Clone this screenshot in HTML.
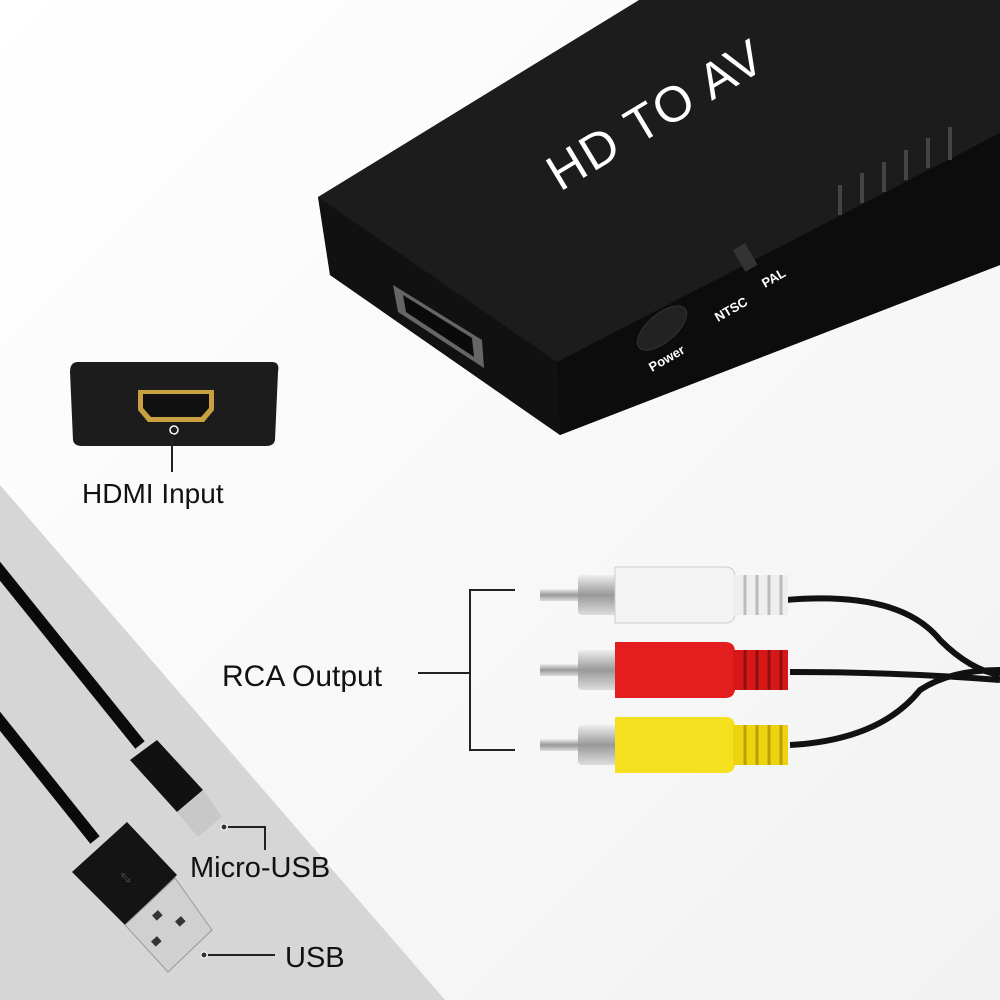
<!DOCTYPE html>
<html><head><meta charset="utf-8"><style>
html,body{margin:0;padding:0;width:1000px;height:1000px;overflow:hidden;background:#fff}
text{font-family:"Liberation Sans",sans-serif}
</style></head><body>
<svg width="1000" height="1000" viewBox="0 0 1000 1000" xmlns="http://www.w3.org/2000/svg">
<defs>
<linearGradient id="bg" x1="0" y1="0" x2="1" y2="1"><stop offset="0" stop-color="#ffffff"/><stop offset="1" stop-color="#f2f2f2"/></linearGradient>
<linearGradient id="metal" x1="0" y1="0" x2="0" y2="1"><stop offset="0" stop-color="#eee"/><stop offset=".5" stop-color="#999"/><stop offset="1" stop-color="#ddd"/></linearGradient>
</defs>
<rect width="1000" height="1000" fill="url(#bg)"/>
<polygon points="0,485 445,1000 0,1000" fill="#d6d6d6"/>
<!-- box -->
<polygon points="318,197 639,0 1000,0 1000,265 560,435 330,275" fill="#1c1c1c"/>
<polygon points="557,362 1000,133 1000,265 560,435" fill="#0c0c0c"/>
<polygon points="318,197 557,362 560,435 330,275" fill="#111"/>
<text x="560" y="192" transform="rotate(-31 560 192)" font-size="50" fill="#fff" letter-spacing="2">HD TO AV</text>
<polygon points="393,285 482,340 484,368 398,312" fill="#666"/>
<polygon points="403,295 472,338 474,357 406,312" fill="#0a0a0a"/>
<ellipse cx="662" cy="328" rx="30" ry="14" transform="rotate(-40 662 328)" fill="#222" stroke="#333"/>
<text x="652" y="372" transform="rotate(-30 652 372)" font-size="13" font-weight="bold" fill="#fff">Power</text>
<text x="718" y="322" transform="rotate(-30 718 322)" font-size="13" font-weight="bold" fill="#fff">NTSC</text>
<text x="765" y="288" transform="rotate(-30 765 288)" font-size="13" font-weight="bold" fill="#fff">PAL</text>
<rect x="738" y="245" width="14" height="25" fill="#333" transform="rotate(-30 745 257)"/>
<g stroke="#444" stroke-width="4">
<line x1="840" y1="185" x2="840" y2="215"/><line x1="862" y1="173" x2="862" y2="203"/><line x1="884" y1="162" x2="884" y2="192"/><line x1="906" y1="150" x2="906" y2="180"/><line x1="928" y1="138" x2="928" y2="168"/><line x1="950" y1="127" x2="950" y2="160"/>
</g>
<!-- HDMI input -->
<path d="M78,362 H272 Q280,362 278,372 L275,440 Q274,446 266,446 H82 Q74,446 73,440 L70,372 Q70,362 78,362Z" fill="#1c1c1c"/>
<path d="M138,390 H214 V410 L204,422 H148 L138,410Z" fill="#c9a040"/>
<path d="M143,394 H209 V408 L201,417 H151 L143,408Z" fill="#111"/>
<circle cx="174" cy="430" r="4" fill="none" stroke="#fff" stroke-width="1.5"/>
<line x1="172" y1="434" x2="172" y2="472" stroke="#222" stroke-width="2"/>
<text x="82" y="503" font-size="28" fill="#111">HDMI Input</text>
<!-- RCA -->
<g stroke="#111" stroke-width="6" fill="none">
<path d="M785,600 Q900,590 940,640 Q970,670 1000,675"/>
<path d="M790,672 Q900,672 1000,680"/>
<path d="M790,745 Q880,740 920,690 Q950,670 1000,670"/>
</g>
<g>
<g transform="translate(0,595)">
<rect x="540" y="-6" width="40" height="12" fill="url(#metal)"/>
<rect x="578" y="-20" width="40" height="40" rx="4" fill="url(#metal)"/>
<path d="M615,-28 H725 Q735,-28 735,-18 V18 Q735,28 725,28 H615Z" fill="#f3f3f3" stroke="#ccc"/>
<rect x="733" y="-20" width="55" height="40" fill="#eee"/>
<g stroke="#bbb" stroke-width="3"><line x1="745" y1="-20" x2="745" y2="20"/><line x1="757" y1="-20" x2="757" y2="20"/><line x1="769" y1="-20" x2="769" y2="20"/><line x1="781" y1="-20" x2="781" y2="20"/></g>
</g>
<g transform="translate(0,670)">
<rect x="540" y="-6" width="40" height="12" fill="url(#metal)"/>
<rect x="578" y="-20" width="40" height="40" rx="4" fill="url(#metal)"/>
<path d="M615,-28 H725 Q735,-28 735,-18 V18 Q735,28 725,28 H615Z" fill="#e41e1e"/>
<rect x="733" y="-20" width="55" height="40" fill="#d81818"/>
<g stroke="#901010" stroke-width="3"><line x1="745" y1="-20" x2="745" y2="20"/><line x1="757" y1="-20" x2="757" y2="20"/><line x1="769" y1="-20" x2="769" y2="20"/><line x1="781" y1="-20" x2="781" y2="20"/></g>
</g>
<g transform="translate(0,745)">
<rect x="540" y="-6" width="40" height="12" fill="url(#metal)"/>
<rect x="578" y="-20" width="40" height="40" rx="4" fill="url(#metal)"/>
<path d="M615,-28 H725 Q735,-28 735,-18 V18 Q735,28 725,28 H615Z" fill="#f5e020"/>
<rect x="733" y="-20" width="55" height="40" fill="#eed410"/>
<g stroke="#b8a000" stroke-width="3"><line x1="745" y1="-20" x2="745" y2="20"/><line x1="757" y1="-20" x2="757" y2="20"/><line x1="769" y1="-20" x2="769" y2="20"/><line x1="781" y1="-20" x2="781" y2="20"/></g>
</g>
</g>
<g stroke="#222" stroke-width="2" fill="none">
<path d="M515,590 H470 V750 H515"/>
<line x1="418" y1="673" x2="470" y2="673"/>
</g>
<text x="222" y="686" font-size="30" fill="#111">RCA Output</text>
<!-- USB cables -->
<g stroke="#0a0a0a" stroke-width="12" fill="none">
<line x1="-5" y1="565" x2="140" y2="745"/>
<line x1="-5" y1="715" x2="95" y2="840"/>
</g>
<polygon points="130,760 157,740 203,790 177,812" fill="#111"/>
<polygon points="177,812 203,790 222,817 198,837" fill="#c8c8c8"/>
<polygon points="72,872 127,822 177,875 125,925" fill="#141414"/>
<polygon points="125,925 175,878 212,930 168,972" fill="#d0d0d0" stroke="#999"/>
<rect x="153" y="912" width="8" height="7" fill="#333" transform="rotate(-42 157 915)"/>
<rect x="176" y="918" width="8" height="7" fill="#333" transform="rotate(-42 180 921)"/>
<rect x="152" y="938" width="8" height="7" fill="#333" transform="rotate(-42 156 941)"/>
<text x="118" y="880" font-size="20" fill="#555" transform="rotate(48 124 874)">⇔</text>
<g stroke="#222" stroke-width="2" fill="none">
<path d="M228,827 H265 V850"/>
<line x1="208" y1="955" x2="275" y2="955"/>
</g>
<circle cx="224" cy="827" r="3" fill="#333" stroke="#fff"/>
<circle cx="204" cy="955" r="3" fill="#333" stroke="#fff"/>
<text x="190" y="877" font-size="29" fill="#111">Micro-USB</text>
<text x="285" y="967" font-size="29" fill="#111">USB</text>
</svg>
</body></html>
